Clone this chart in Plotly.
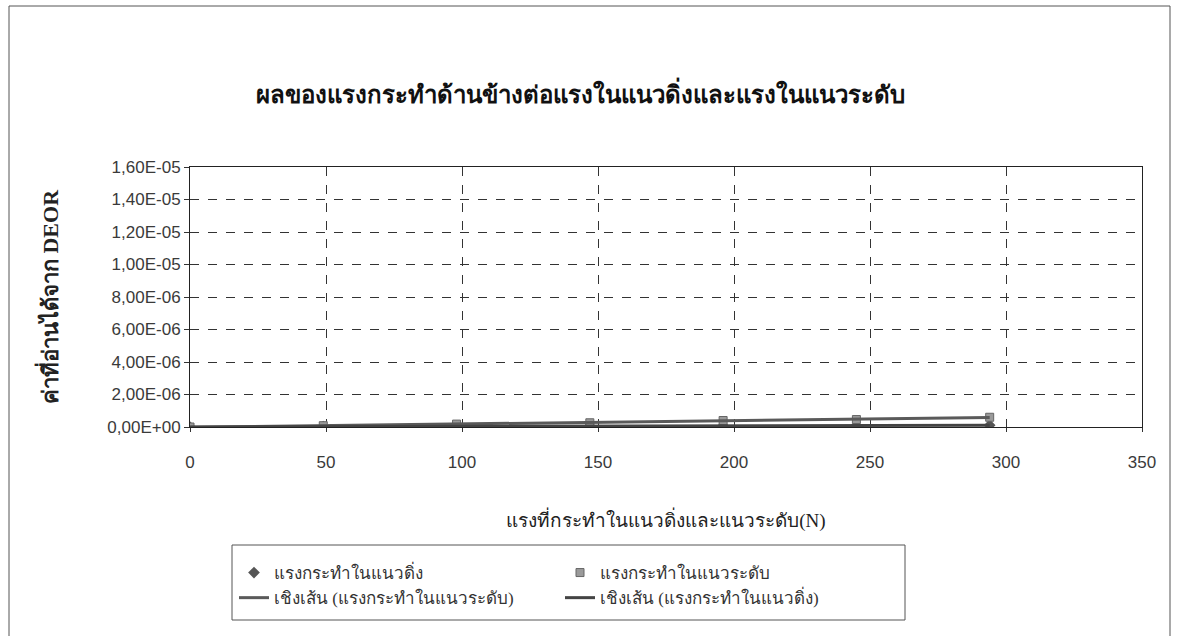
import numpy as np
import plotly.graph_objects as go

# ---- data ----
force_n = [0, 49, 98, 147, 196, 245, 294]
vertical_vals = [0.0, 2e-8, 4e-8, 6e-8, 8e-8, 9e-8, 1.1e-7]
horizontal_vals = [0.0, 8e-8, 1.8e-7, 2.6e-7, 4.0e-7, 4.6e-7, 6.0e-7]

y_tickvals = [0, 2e-6, 4e-6, 6e-6, 8e-6, 1e-5, 1.2e-5, 1.4e-5, 1.6e-5]
y_ticktext = ["0,00E+00", "2,00E-06", "4,00E-06", "6,00E-06", "8,00E-06",
              "1,00E-05", "1,20E-05", "1,40E-05", "1,60E-05"]
x_tickvals = [0, 50, 100, 150, 200, 250, 300, 350]

title_text = "ผลของแรงกระทำด้านข้างต่อแรงในแนวดิ่งและแรงในแนวระดับ"
x_title = "แรงที่กระทำในแนวดิ่งและแนวระดับ(N)"
y_title = "ค่าที่อ่านได้จาก DEOR"
name_v = "แรงกระทำในแนวดิ่ง"
name_h = "แรงกระทำในแนวระดับ"
name_trend_h = "เชิงเส้น (แรงกระทำในแนวระดับ)"
name_trend_v = "เชิงเส้น (แรงกระทำในแนวดิ่ง)"

# linear trendlines (least squares, as the spreadsheet does)
xv = np.array(force_n, dtype=float)
pv = np.polyfit(xv, vertical_vals, 1)
ph = np.polyfit(xv, horizontal_vals, 1)
trend_x = np.array([xv.min(), xv.max()])

W, H = 1178, 636
L, R, T, B = 190, 36, 167, 209
pw, ph_ = W - L - R, H - T - B

def px_x(p):
    return (p - L) / pw

def px_y(p):
    return (H - B - p) / ph_

thai_font = "Liberation Serif, Noto Sans, DejaVu Sans, serif"
tick_font = dict(family="Liberation Sans, Arial, sans-serif", size=17, color="#3a3a3a")

fig = go.Figure()
fig.add_trace(go.Scatter(x=force_n, y=vertical_vals, mode="markers", name=name_v,
                         marker=dict(symbol="diamond", size=9, color="#555555"),
                         legend="legend"))
fig.add_trace(go.Scatter(x=force_n, y=horizontal_vals, mode="markers", name=name_h,
                         marker=dict(symbol="square", size=8, color="#9a9a9a",
                                     line=dict(color="#666666", width=1)),
                         legend="legend2"))
fig.add_trace(go.Scatter(x=trend_x, y=np.polyval(ph, trend_x), mode="lines", name=name_trend_h,
                         line=dict(color="#5a5a5a", width=3), legend="legend"))
fig.add_trace(go.Scatter(x=trend_x, y=np.polyval(pv, trend_x), mode="lines", name=name_trend_v,
                         line=dict(color="#444444", width=3), legend="legend2"))

legend_common = dict(bgcolor="rgba(0,0,0,0)", borderwidth=0, tracegroupgap=0,
                     font=dict(family=thai_font, size=17, color="#333333"),
                     xanchor="left", yanchor="top", itemwidth=30)

fig.update_layout(
    width=W, height=H,
    margin=dict(l=L, r=R, t=T, b=B),
    paper_bgcolor="white", plot_bgcolor="white",
    title=dict(text="<b>" + title_text + "</b>", x=580 / W, xref="container", xanchor="center",
               y=1 - 95 / H, yref="container", yanchor="middle",
               font=dict(family=thai_font, size=24, color="#111111")),
    showlegend=True,
    legend=dict(x=px_x(234), y=px_y(555), **legend_common),
    legend2=dict(x=px_x(560), y=px_y(555), **legend_common),
    xaxis=dict(range=[0, 350], tickvals=x_tickvals, tickfont=tick_font,
               showgrid=True, gridcolor="#333333", griddash="dash", gridwidth=1,
               showline=True, linecolor="#222222", linewidth=1, mirror=True,
               ticks="outside", ticklen=4, tickcolor="#333333", zeroline=False,
               ticklabelstandoff=16,
               title=dict(text=x_title, standoff=42,
                          font=dict(family=thai_font, size=19, color="#222222"))),
    yaxis=dict(range=[0, 1.6e-5], tickvals=y_tickvals, ticktext=y_ticktext, tickfont=tick_font,
               showgrid=True, gridcolor="#333333", griddash="dash", gridwidth=1,
               showline=True, linecolor="#222222", linewidth=1, mirror=True,
               ticks="outside", ticklen=5, tickcolor="#333333", zeroline=False,
               title=dict(text="<b>" + y_title + "</b>", standoff=42,
                          font=dict(family=thai_font, size=22, color="#222222"))),
)

# legend box and outer chart-area border
fig.add_shape(type="rect", xref="paper", yref="paper",
              x0=px_x(232), x1=px_x(905), y0=px_y(620), y1=px_y(545),
              line=dict(color="#555555", width=1), fillcolor="rgba(0,0,0,0)")
fig.add_shape(type="rect", xref="paper", yref="paper",
              x0=px_x(9), x1=px_x(1170), y0=px_y(660), y1=px_y(6),
              line=dict(color="#555555", width=1), fillcolor="rgba(0,0,0,0)")

fig.write_html("out.html")
